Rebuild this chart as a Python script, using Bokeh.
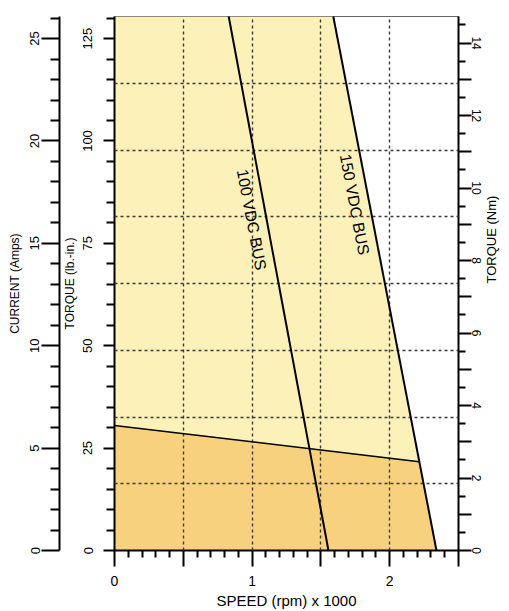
import math
import numpy as np
from bokeh.plotting import figure
from bokeh.models import Range1d, LinearAxis, FixedTicker
from bokeh.core.properties import value
from bokeh.embed import file_html
from bokeh.resources import INLINE

# ---------------- data ----------------
torque_top = 130.4            # lb-in at top of chart
speed_max = 2.5               # rpm x 1000
lbin_per_nm = 8.8507
lbin_per_amp = 5.0

# 100 VDC bus boundary (speed x1000, torque lb-in)
bus100_speed = [0.83, 1.555]
bus100_torque = [130.4, 0.0]
# 150 VDC bus boundary
bus150_speed = [1.59, 2.34]
bus150_torque = [130.4, 0.0]
# continuous (lower) limit line
limit_speed = [0.0, 2.215]
limit_torque = [30.5, 21.7]

bus_labels = ["100 VDC BUS", "150 VDC BUS"]
bus_label_torque = [80.8, 84.5]

speed_ticks = [0, 0.5, 1, 1.5, 2, 2.5]
speed_tick_labels = ["0", "", "1", "", "2", ""]
speed_minor = [0.1, 0.2, 0.3, 0.4, 0.6, 0.7, 0.8, 0.9, 1.1, 1.2, 1.3, 1.4,
               1.6, 1.7, 1.8, 1.9, 2.1, 2.2, 2.3, 2.4]
speed_grid = [0.5, 1, 1.5, 2]

torque_ticks = [0, 25, 50, 75, 100, 125]
torque_minor = [5, 10, 15, 20, 30, 35, 40, 45, 55, 60, 65, 70, 80, 85, 90, 95,
                105, 110, 115, 120, 130]
torque_grid = [16.3, 32.6, 48.9, 65.2, 81.5, 97.8, 114.1]

amp_ticks = [0, 5, 10, 15, 20, 25]
amp_minor = [1, 2, 3, 4, 6, 7, 8, 9, 11, 12, 13, 14, 16, 17, 18, 19, 21, 22, 23, 24, 26]

nm_ticks = [0, 1, 2, 3, 4, 5, 6, 7, 8, 9, 10, 11, 12, 13, 14]
nm_tick_labels = ["0", "", "2", "", "4", "", "6", "", "8", "", "10", "", "12", "", "14"]
nm_minor = [0.5, 1.5, 2.5, 3.5, 4.5, 5.5, 6.5, 7.5, 8.5, 9.5, 10.5, 11.5, 12.5, 13.5, 14.5]

# ---------------- figure ----------------
FONT = "Liberation Sans"

p = figure(width=509, height=611, output_backend="svg", toolbar_location=None,
           x_range=Range1d(0, speed_max), y_range=Range1d(0, torque_top),
           min_border_left=114, min_border_right=43, min_border_top=16,
           min_border_bottom=61, background_fill_color="white",
           border_fill_color="white")
p.outline_line_color = "#666666"
p.outline_line_width = 1

p.extra_y_ranges = {
    "amps": Range1d(0, torque_top / lbin_per_amp),
    "nm": Range1d(0, torque_top / lbin_per_nm),
}

# fills
light_x = [0, 0] + bus150_speed
light_y = [0, bus150_torque[0]] + bus150_torque
p.patch(light_x, light_y, fill_color="#FDF1BA", line_color=None)

orange_x = [0] + limit_speed + [bus150_speed[-1]]
orange_y = [0] + limit_torque + [0]
p.patch(orange_x, orange_y, fill_color="#F8D17F", line_color=None)

# grid
p.xgrid.ticker = FixedTicker(ticks=speed_grid)
p.ygrid.ticker = FixedTicker(ticks=torque_grid)
for g in (p.xgrid, p.ygrid):
    g.grid_line_color = "#3a3a3a"
    g.grid_line_dash = "3 3"
    g.grid_line_width = 1.4
    g.level = "annotation"

# boundary lines
p.line(bus100_speed, bus100_torque, line_color="black", line_width=2, level="overlay")
p.line(bus150_speed, bus150_torque, line_color="black", line_width=2, level="overlay")
p.line(limit_speed, limit_torque, line_color="black", line_width=1.5, level="overlay")

# labels along bus lines
lab_x, lab_y = [], []
for t, sp, tq in zip(bus_label_torque, [bus100_speed, bus150_speed],
                     [bus100_torque, bus150_torque]):
    lab_x.append(float(np.interp(t, tq[::-1], sp[::-1])))
    lab_y.append(t)
p.text(x=lab_x, y=lab_y, text=bus_labels, angle=-1.383, x_offset=-15,
       text_align="center", text_baseline="middle", text_color="black",
       text_font=value(FONT), text_font_size="16px", level="overlay")

# ---------------- axes ----------------
def style(ax, label_size="12px", tick_size="13px"):
    ax.axis_line_color = "black"
    ax.axis_line_width = 2
    ax.major_tick_line_color = "black"
    ax.major_tick_line_width = 2
    ax.minor_tick_line_color = "black"
    ax.minor_tick_line_width = 2
    ax.major_tick_in = 0
    ax.minor_tick_in = 0
    ax.major_label_text_font = FONT
    ax.major_label_text_font_size = tick_size
    ax.major_label_text_color = "black"
    ax.axis_label_text_font = FONT
    ax.axis_label_text_font_size = label_size
    ax.axis_label_text_font_style = "normal"
    ax.axis_label_text_color = "black"

# speed (bottom)
xa = p.xaxis[0]
style(xa, label_size="15px", tick_size="14px")
xa.ticker = FixedTicker(ticks=speed_ticks, minor_ticks=speed_minor)
xa.major_label_overrides = {float(t): s for t, s in zip(speed_ticks, speed_tick_labels)}
xa.major_tick_out = 16
xa.minor_tick_out = 7
xa.major_label_standoff = 9
xa.axis_label = "SPEED (rpm) x 1000"
xa.axis_label_standoff = 3

# torque lb-in (left, next to frame)
ya = p.yaxis[0]
style(ya)
ya.ticker = FixedTicker(ticks=torque_ticks, minor_ticks=torque_minor)
ya.major_tick_out = 11
ya.minor_tick_out = 8
ya.major_label_orientation = "vertical"
ya.major_label_standoff = 11
ya.axis_label = "TORQUE (lb.-in.)"
ya.axis_label_standoff = 4

# current (left, outer)
ca = LinearAxis(y_range_name="amps", axis_label="CURRENT (Amps)")
style(ca)
ca.ticker = FixedTicker(ticks=amp_ticks, minor_ticks=amp_minor)
ca.major_tick_out = 18
ca.minor_tick_out = 9
ca.major_label_orientation = "vertical"
ca.major_label_standoff = 2
ca.axis_label_standoff = 6
p.add_layout(ca, "left")

# torque Nm (right); title reads bottom-to-top as in the original
na = LinearAxis(y_range_name="nm", axis_label="TORQUE (Nm)")
style(na, label_size="13px", tick_size="12px")
na.ticker = FixedTicker(ticks=nm_ticks, minor_ticks=nm_minor)
na.major_label_overrides = {float(t): s for t, s in zip(nm_ticks, nm_tick_labels)}
na.major_tick_out = 13
na.minor_tick_out = 7
na.major_label_orientation = "vertical"
na.major_label_standoff = 0
na.axis_label_orientation = math.pi / 2
na.axis_label_standoff = 8
p.add_layout(na, "right")

open("out.html", "w").write(file_html(p, INLINE))
